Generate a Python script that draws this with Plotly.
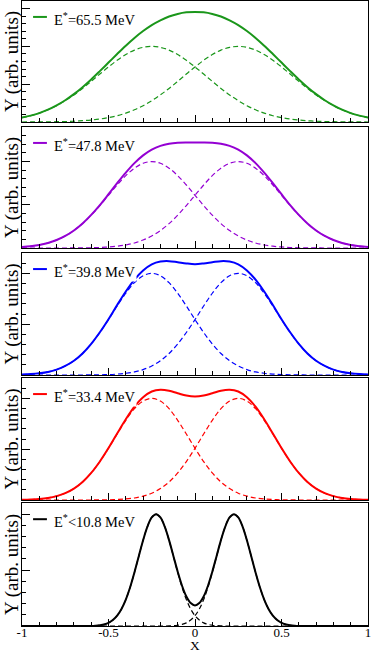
import plotly.graph_objects as go

# sample positions along X
x_pts = [-1.0, -0.95, -0.9, -0.85, -0.8, -0.75, -0.7, -0.65, -0.6, -0.55, -0.5,
         -0.45, -0.4, -0.35, -0.3, -0.25, -0.2, -0.15, -0.1, -0.05, 0.0,
         0.05, 0.1, 0.15, 0.2, 0.25, 0.3, 0.35, 0.4, 0.45, 0.5,
         0.55, 0.6, 0.65, 0.7, 0.75, 0.8, 0.85, 0.9, 0.95, 1.0]

# finer sampling for the narrow low-energy peaks
x_pts_low = [-1.0, -0.8, -0.6, -0.575, -0.55, -0.525, -0.5, -0.475, -0.45, -0.425,
             -0.4, -0.375, -0.35, -0.325, -0.3, -0.275, -0.25, -0.225, -0.2, -0.175,
             -0.15, -0.125, -0.1, -0.075, -0.05, -0.025, 0.0, 0.025, 0.05, 0.075,
             0.1, 0.125, 0.15, 0.175, 0.2, 0.225, 0.25, 0.275, 0.3, 0.325,
             0.35, 0.375, 0.4, 0.425, 0.45, 0.475, 0.5, 0.525, 0.55, 0.575,
             0.6, 0.8, 1.0]

# left-hand component (the right one is its mirror image)
comp_655 = [0.058, 0.083, 0.117, 0.161, 0.216, 0.282, 0.358, 0.444, 0.537, 0.634,
            0.728, 0.816, 0.892, 0.951, 0.987, 1.000, 0.987, 0.951, 0.892, 0.816,
            0.728, 0.634, 0.537, 0.444, 0.358, 0.282, 0.216, 0.161, 0.117, 0.083,
            0.058, 0.039, 0.026, 0.017, 0.010, 0.006, 0.004, 0.002, 0.001, 0.001, 0.000]
comp_478 = [0.012, 0.021, 0.035, 0.058, 0.092, 0.139, 0.202, 0.282, 0.380, 0.491,
            0.610, 0.729, 0.837, 0.924, 0.980, 1.000, 0.980, 0.924, 0.837, 0.729,
            0.610, 0.491, 0.380, 0.282, 0.202, 0.139, 0.092, 0.058, 0.035, 0.021,
            0.012, 0.006, 0.003, 0.002, 0.001, 0.000, 0.000, 0.000, 0.000, 0.000, 0.000]
comp_398 = [0.004, 0.009, 0.017, 0.030, 0.053, 0.089, 0.140, 0.212, 0.305, 0.418,
            0.545, 0.679, 0.804, 0.908, 0.976, 1.000, 0.976, 0.908, 0.804, 0.679,
            0.545, 0.418, 0.305, 0.212, 0.140, 0.089, 0.053, 0.030, 0.017, 0.009,
            0.004, 0.002, 0.001, 0.000, 0.000, 0.000, 0.000, 0.000, 0.000, 0.000, 0.000]
comp_334 = [0.002, 0.005, 0.010, 0.020, 0.038, 0.067, 0.112, 0.177, 0.266, 0.378,
            0.509, 0.649, 0.784, 0.898, 0.973, 1.000, 0.973, 0.898, 0.784, 0.649,
            0.509, 0.378, 0.266, 0.177, 0.112, 0.067, 0.038, 0.020, 0.010, 0.005,
            0.002, 0.001, 0.000, 0.000, 0.000, 0.000, 0.000, 0.000, 0.000, 0.000, 0.000]
comp_108 = [0.000, 0.000, 0.001, 0.003, 0.007, 0.014, 0.028, 0.053, 0.092, 0.152,
            0.236, 0.346, 0.479, 0.624, 0.767, 0.889, 0.971, 1.000, 0.971, 0.889,
            0.767, 0.624, 0.479, 0.346, 0.236, 0.152, 0.092, 0.053, 0.028, 0.014,
            0.007, 0.003, 0.001, 0.000, 0.000, 0.000, 0.000, 0.000, 0.000, 0.000,
            0.000, 0.000, 0.000, 0.000, 0.000, 0.000, 0.000, 0.000, 0.000, 0.000,
            0.000, 0.000, 0.000]

labels = ["E<sup>*</sup>=65.5 MeV", "E<sup>*</sup>=47.8 MeV", "E<sup>*</sup>=39.8 MeV",
          "E<sup>*</sup>=33.4 MeV", "E<sup>*</sup>&lt;10.8 MeV"]
colors = ["#1a961a", "#9400d3", "#0000ff", "#ff0000", "#000000"]
y_tops = [1.6, 1.4, 1.2, 1.2, 1.1]
x_tick_vals = [-1, -0.5, 0, 0.5, 1]
x_tick_text = ["-1", "-0.5", "0", "0.5", "1"]

panels = [
    (x_pts, comp_655),
    (x_pts, comp_478),
    (x_pts, comp_398),
    (x_pts, comp_334),
    (x_pts_low, comp_108),
]

# vertical domains of the five stacked boxes (top to bottom)
domains = [[0.8064, 1.0], [0.6048, 0.7984], [0.4016, 0.5968], [0.2016, 0.3968], [0.0, 0.1968]]

serif = "Liberation Serif"

fig = go.Figure()
annotations = []
shapes = []

for i, (xs, left) in enumerate(panels):
    n = i + 1
    xa = "x" if n == 1 else "x%d" % n
    ya = "y" if n == 1 else "y%d" % n
    right = left[::-1]
    total = [a + b for a, b in zip(left, right)]
    col = colors[i]

    for comp in (left, right):
        fig.add_trace(go.Scatter(x=xs, y=comp, mode="lines", xaxis=xa, yaxis=ya,
                                 line=dict(color=col, width=1.2, dash="5px,3px", shape="spline"),
                                 showlegend=False, hoverinfo="skip"))
    fig.add_trace(go.Scatter(x=xs, y=total, mode="lines", xaxis=xa, yaxis=ya,
                             line=dict(color=col, width=2, shape="spline"),
                             showlegend=False, hoverinfo="skip"))

    last = n == len(panels)
    fig.layout["xaxis" if n == 1 else "xaxis%d" % n] = dict(
        domain=[0, 1], anchor=ya, range=[-1, 1], matches=None if n == 1 else "x",
        showline=True, linecolor="black", linewidth=1.3, mirror=True,
        ticks="inside", ticklen=7, tickwidth=1, tickcolor="black",
        tickvals=x_tick_vals, ticktext=x_tick_text, showticklabels=last,
        ticklabelstandoff=-6,
        minor=dict(dtick=0.1, ticks="inside", ticklen=3.5, tickcolor="black"),
        showgrid=False, zeroline=False,
        tickfont=dict(family=serif, size=13, color="black"),
    )
    fig.layout["yaxis" if n == 1 else "yaxis%d" % n] = dict(
        domain=domains[i], anchor=xa, range=[0, y_tops[i]],
        showline=True, linecolor="black", linewidth=1.3, mirror=True,
        ticks="inside", ticklen=8, tickwidth=1, tickcolor="black",
        dtick=0.5, tick0=0, showticklabels=False,
        minor=dict(dtick=0.1, ticks="inside", ticklen=4, tickcolor="black"),
        showgrid=False, zeroline=False,
    )

    # axis title on the left
    annotations.append(dict(text="Y (arb. units)", textangle=-90, xref="paper", yref="paper",
                            x=-0.0303, y=(domains[i][0] + domains[i][1]) / 2,
                            xanchor="center", yanchor="middle", showarrow=False,
                            font=dict(family=serif, size=19, color="black")))
    # legend entry
    annotations.append(dict(text=labels[i], xref="paper", yref=ya + " domain",
                            x=0.087, y=1, yshift=-18, xanchor="left", yanchor="middle",
                            showarrow=False, bgcolor="white", borderpad=1,
                            font=dict(family=serif, size=14.5, color="black")))
    shapes.append(dict(type="line", xref="paper", yref=ya + " domain",
                       x0=0.032, x1=0.072, y0=1 - 16 / 121.5, y1=1 - 16 / 121.5,
                       line=dict(color=col, width=2), layer="above"))

annotations.append(dict(text="X", xref="paper", yref="paper", x=0.5, y=0, yshift=-19,
                        xanchor="center", yanchor="middle", showarrow=False, borderpad=0,
                        font=dict(family=serif, size=13.5, color="black")))

fig.update_layout(
    width=374, height=653,
    margin=dict(l=22, r=6, t=1, b=27),
    paper_bgcolor="white", plot_bgcolor="white",
    font=dict(family=serif, color="black"),
    annotations=annotations, shapes=shapes,
    showlegend=False,
)

# the page's default body margin would shift the figure by 8px
fig.write_html("out.html", config={"displayModeBar": False},
               post_script="document.body.style.margin='0px';")
